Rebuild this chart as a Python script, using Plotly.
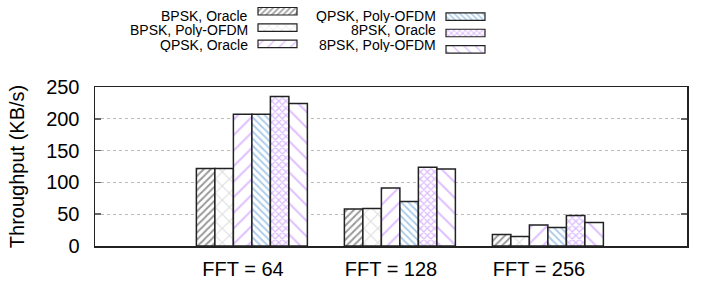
import plotly.graph_objects as go

# ---- data ----
groups = ["FFT = 64", "FFT = 128", "FFT = 256"]
series_names = ["BPSK, Oracle", "BPSK, Poly-OFDM", "QPSK, Oracle",
                "QPSK, Poly-OFDM", "8PSK, Oracle", "8PSK, Poly-OFDM"]
bpsk_oracle = [122, 58, 18]
bpsk_poly = [122, 59, 15]
qpsk_oracle = [207, 91, 33]
qpsk_poly = [207, 70, 29]
psk8_oracle = [235, 124, 48]
psk8_poly = [224, 121, 37]
y_ticks = [0, 50, 100, 150, 200, 250]

series_values = [bpsk_oracle, bpsk_poly, qpsk_oracle, qpsk_poly, psk8_oracle, psk8_poly]

# ---- styles ----
patterns = [
    dict(shape="/", fgcolor="#333333", bgcolor="white", size=5, solidity=0.4),
    dict(shape="x", fgcolor="#bbbbbb", bgcolor="white", size=10, solidity=0.2),
    dict(shape="/", fgcolor="#c080ff", bgcolor="white", size=11, solidity=0.18),
    dict(shape="\\", fgcolor="#5d9bd5", bgcolor="white", size=5, solidity=0.4),
    dict(shape="x", fgcolor="#bb77ff", bgcolor="white", size=5, solidity=0.45),
    dict(shape="\\", fgcolor="#c080ff", bgcolor="white", size=11, solidity=0.18),
]
legend_pattern_sizes = [4, 6, 8, 4, 4, 8]
outline = dict(color="#222222", width=1.5)
FONT = "Liberation Sans, Arial, sans-serif"

fig = go.Figure()
xs = list(range(len(groups)))
for name, vals, pat in zip(series_names, series_values, patterns):
    fig.add_trace(go.Bar(
        x=xs, y=vals, name=name, showlegend=False,
        marker=dict(color="white", pattern=pat, line=outline),
        xaxis="x", yaxis="y",
    ))

# ---- custom legend (text left, swatch right), on an auxiliary pixel-like axis ----
leg_rows = [15.8, 30.3, 44.8]
leg_cols = [(249, 258, 297), (437, 446, 485)]  # text right edge, swatch start, swatch end
for i, (name, pat) in enumerate(zip(series_names, patterns)):
    col, row = divmod(i, 3)
    tx, s0, s1 = leg_cols[col]
    yy = leg_rows[row]
    lpat = dict(pat, size=legend_pattern_sizes[i])
    fig.add_trace(go.Bar(
        orientation="h", y=[yy], x=[s1 - s0], base=[s0], width=[7.5],
        marker=dict(color="white", pattern=lpat, line=dict(color="#222222", width=1.2)),
        showlegend=False, hoverinfo="skip", xaxis="x2", yaxis="y2",
    ))
    fig.add_annotation(x=tx, y=yy, xref="x2", yref="y2", text=name,
                       showarrow=False, xanchor="right", yanchor="middle",
                       height=14, borderpad=0,
                       font=dict(family=FONT, size=14, color="black"))

W, H = 727, 291
ml, mr, mt, mb = 95, 40, 5, 45
ph = H - mt - mb
top_px = 87
ydom_top = (H - mb - top_px) / ph
ydom2_bot = (H - mb - (top_px - 3)) / ph

fig.update_layout(
    width=W, height=H,
    margin=dict(l=ml, r=mr, t=mt, b=mb, autoexpand=False),
    paper_bgcolor="white", plot_bgcolor="white",
    barmode="group", bargap=0.25, bargroupgap=0,
    font=dict(family=FONT, color="black"),
    xaxis=dict(
        domain=[0, 1], range=[-1.06, 2.94], automargin=False,
        tickvals=[x - 0.06 for x in xs], ticktext=groups,
        ticks="", showgrid=False, zeroline=False,
        showline=True, linecolor="#222222", linewidth=1.5, mirror=True,
        tickfont=dict(family=FONT, size=20, color="black"),
        ticklabelstandoff=4,
    ),
    yaxis=dict(
        domain=[0, ydom_top], range=[0, 250], automargin=False,
        tickvals=y_ticks, ticks="inside", ticklen=6, tickcolor="#666666", tickwidth=1.5,
        showline=True, linecolor="#222222", linewidth=1.5, mirror="ticks",
        showgrid=True, gridcolor="#bbbbbb", griddash="dot", gridwidth=1,
        zeroline=False,
        tickfont=dict(family=FONT, size=20, color="black"),
        ticklabelstandoff=10,
        title=dict(text="Throughput (KB/s)", font=dict(family=FONT, size=20, color="black"),
                   standoff=16),
    ),
    xaxis2=dict(domain=[0, 1], range=[ml, W - mr], visible=False, anchor="y2", automargin=False),
    yaxis2=dict(domain=[ydom2_bot, 1], range=[top_px - 3, mt], visible=False, anchor="x2",
                automargin=False),
)

fig.write_html("out.html", config={"displayModeBar": False, "staticPlot": True},
               post_script="document.body.style.margin='0';")
